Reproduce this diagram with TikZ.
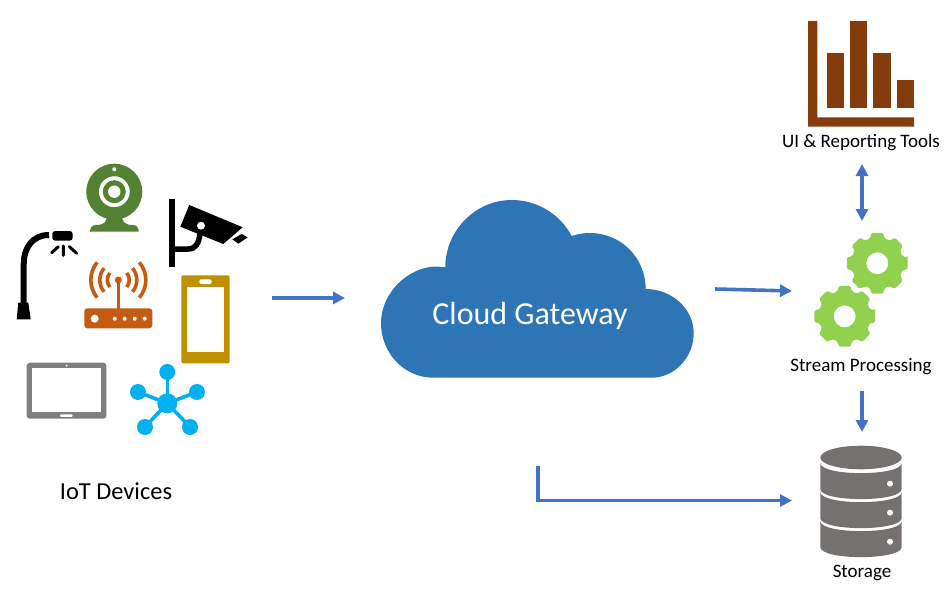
\documentclass[tikz,border=0pt]{standalone}
\usepackage{fontspec}
\setmainfont{Carlito}
\usetikzlibrary{arrows.meta}
\definecolor{arrowblue}{HTML}{4472C4}
\definecolor{cloudblue}{HTML}{2E75B6}
\definecolor{chartbrown}{HTML}{843C0C}
\definecolor{geargreen}{HTML}{92D050}
\definecolor{storegray}{HTML}{767171}
\definecolor{camgreen}{HTML}{548235}
\definecolor{routerorange}{HTML}{C55A11}
\definecolor{phonegold}{HTML}{BF9000}
\definecolor{tabletgray}{HTML}{7F7F7F}
\definecolor{hubblue}{HTML}{00B0F0}
\tikzset{
    %Define standard arrow tip
    >={Triangle[length=12pt,width=12pt]},
    %Define style for labels
    caption/.style={
           font=\fontsize{19}{21}\selectfont,
           inner sep=0pt,
           text=black},
    % Define arrow style
    pil/.style={
           ->,
           draw=arrowblue,
           line width=3.6pt},
    %Define one gear wheel
    gearicon/.pic={
       \fill[geargreen,rounded corners=1.5pt,even odd rule]
          (-11:31) \foreach \a in {0,45,...,315} {
             -- (\a-11:31) -- (\a+11:31) -- (\a+16:26) -- (\a+29:26) } -- cycle
          (0,0) circle[radius=11];
    },
    %Define one disc of the storage
    diskicon/.pic={
       \fill[storegray] (-40.7,0) .. controls (-40.7,13.5) and (40.7,13.5) .. (40.7,0)
          -- (40.7,26) .. controls (40.7,39.5) and (-40.7,39.5) .. (-40.7,26) -- cycle;
       \fill[white] (29,20.7) circle[radius=3];
    }
}
\begin{document}
\begin{tikzpicture}[x=1pt,y=-1pt,line cap=butt]
 \useasboundingbox (0,0) rectangle (951,594);

 %Webcam
 \fill[camgreen,even odd rule] (114.3,191.7) circle[radius=28]
    (114.3,191.7) circle[radius=15.5] (114.3,191.7) circle[radius=11.5];
 \fill[white] (114.3,191.7) circle[radius=6.2] (114.3,169.3) circle[radius=2];
 \fill[camgreen] (106.7,216) -- (122,216) .. controls (122,222) and (125,225) .. (133,225)
    .. controls (137,225) and (138.7,228) .. (138.7,231.7) -- (90,231.7)
    .. controls (90,228) and (92,225) .. (96,225) .. controls (104,225) and (106.7,222) .. (106.7,216) -- cycle;

 %Street lamp
 \draw[line width=6pt] (23.7,305) -- (23.7,265) .. controls (23.7,247) and (33,235) .. (49,235);
 \fill (18.3,302.7) -- (28.3,302.7) -- (30.7,319.3) -- (16.7,319.3) -- cycle;
 \fill[rounded corners=3pt] (52.3,231) rectangle (72.7,240.7);
 \draw[line width=3pt,line cap=round] (51.7,252.7) -- (58.3,246.7) (63.3,246) -- (63.3,255.3) (69.3,246.7) -- (76.7,253.3);

 %Security camera
 \fill (169,199.3) rectangle (175,267.3);
 \draw[line width=5.5pt] (175,249) -- (188,249) .. controls (196,249) and (199,243) .. (200,233);
 \fill (189.3,205) -- (242.7,227.3) -- (223.3,244) -- (180.3,226.7) -- cycle;
 \fill[white] (201,225.7) circle[radius=4];
 \fill (232.3,239.3) -- (241.7,234) -- (247.7,237.3) -- (238.3,243.7) -- cycle;

 %Router
 \fill[routerorange,rounded corners=3pt] (84.3,308.3) rectangle (152.3,328.3);
 \fill[white] (94.7,318.7) circle[radius=4];
 \foreach \x in {114.7,124.7,134.7,144.7}
    \fill[white] (\x,318.7) circle[radius=2];
 \draw[routerorange,line width=3pt] (118.3,280) -- (118.3,309);
 \fill[routerorange] (118.3,280) circle[radius=3.5];
 \foreach \r in {11,18.5,27.5} {
    \draw[routerorange,line width=3.6pt] (118.3,280) ++(140:\r) arc[start angle=140,end angle=220,radius=\r];
    \draw[routerorange,line width=3.6pt] (118.3,280) ++(-40:\r) arc[start angle=-40,end angle=40,radius=\r];
 }

 %Phone
 \fill[phonegold,rounded corners=1.5pt] (181.3,275.3) rectangle (229.7,363.3);
 \fill[white] (187.3,287.3) rectangle (223.7,351.7);
 \fill[white,rounded corners=1.5pt] (199.3,279.3) rectangle (211.7,284);

 %Tablet
 \fill[tabletgray,rounded corners=3pt] (26.7,362.7) rectangle (106.3,418.7);
 \fill[white] (32.3,368.3) rectangle (100.7,412.3);
 \fill[white] (66.7,365.7) circle[radius=1];
 \fill[white,rounded corners=1pt] (60,414.3) rectangle (72.7,416.8);

 %Hub
 \foreach \x/\y in {167.3/372,138/392,197/392,145/427,190/427} {
    \draw[hubblue,line width=3.6pt] (167.3,403.3) -- (\x,\y);
    \fill[hubblue] (\x,\y) circle[radius=8];
 }
 \fill[hubblue] (167.3,403.3) circle[radius=10];
 \node[caption,font=\fontsize{24.4}{26}\selectfont] (iot) at (116,491) {IoT Devices};

 %Cloud
 \fill[cloudblue] (433.3,377.7) .. controls (404,377.7) and (381,353) .. (381,323)
    .. controls (381,293) and (408,267) .. (436,266.5) -- (445.3,267.3)
    .. controls (445.3,231) and (475,200) .. (511.7,200)
    .. controls (537,200) and (560,214) .. (571.7,236)
    .. controls (577.5,234) and (584,233) .. (590,233)
    .. controls (621,233) and (645.7,258) .. (645.7,289)
    .. controls (672,289) and (693.7,309) .. (693.7,333)
    .. controls (693.7,358) and (674,377.7) .. (651.7,377.7) -- cycle;
 \node[caption,text=white,font=\fontsize{32}{34}\selectfont] (cloud) at (530,316) {Cloud Gateway};

 %Chart
 \fill[chartbrown] (808,21) -- (817.3,21) -- (817.3,117.3) -- (914,117.3) -- (914,126.7) -- (808,126.7) -- cycle;
 \foreach \x/\y in {826.7/53.5,850/21,873.3/53.5,897/80}
    \fill[chartbrown] (\x,\y) rectangle ++(17.3,108.3-\y);
 \node[caption] (ui) at (861,142.5) {UI \& Reporting Tools};

 %Gears
 \pic (gearup) at (877.3,263.3) {gearicon};
 \pic (geardown) at (844.7,316.3) {gearicon};
 \node[caption] (stream) at (861,366.5) {Stream Processing};

 %Storage
 \fill[storegray] (861,457.5) ellipse[x radius=40.7,y radius=11.8];
 \foreach \y in {463,492,521}
    \pic at (861,\y) {diskicon};
 \node[caption] (storage) at (862,572.5) {Storage};

 %Connectors
 \coordinate (iotout) at (272,298);
 \coordinate (cloudin) at (345,298);
 \coordinate (cloudout) at (715,289);
 \coordinate (gearsin) at (792,291);
 \coordinate (cloudbase) at (538,466);
 \coordinate (storein) at (792,500.5);
 \coordinate (uibase) at (862,164);
 \coordinate (gearstop) at (862,221);
 \coordinate (gearsbase) at (862,391);
 \coordinate (storetop) at (862,432);

 \draw[pil] (iotout) -- (cloudin);
 \draw[pil] (cloudout) -- (gearsin);
 \draw[pil] (cloudbase) |- (storein);
 \draw[pil,<->] (uibase) -- (gearstop);
 \draw[pil] (gearsbase) -- (storetop);
\end{tikzpicture}
\end{document}
